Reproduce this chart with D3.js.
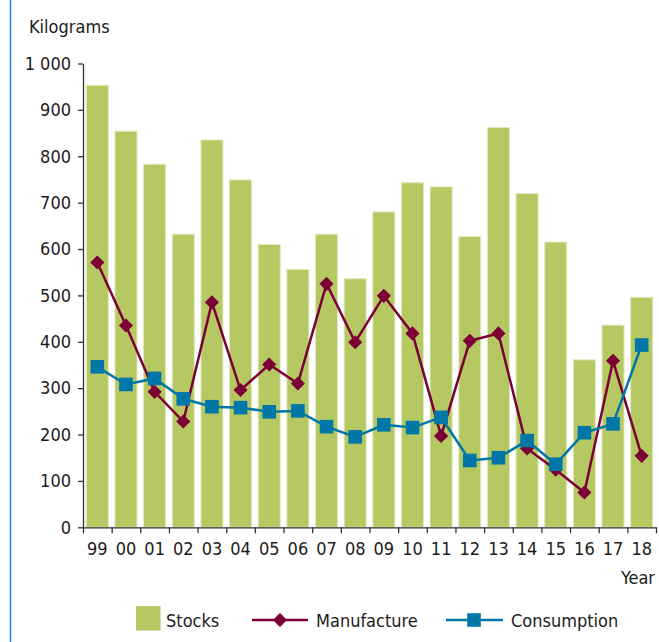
<!DOCTYPE html>
<html>
<head>
<meta charset="utf-8">
<script src="https://cdn.jsdelivr.net/npm/d3@7"></script>
<style>
  body { margin: 0; background: #fff; }
  text { font-family: "Liberation Sans Narrow", "DejaVu Sans Condensed", Arial, sans-serif; fill: #1e1b1c; }
</style>
</head>
<body>
<div id="chart-area"></div>
<script>
// data
var years = ["99","00","01","02","03","04","05","06","07","08","09","10","11","12","13","14","15","16","17","18"];
var stocks = [953, 854, 783, 632, 835, 749, 610, 556, 632, 536, 680, 743, 734, 627, 862, 720, 615, 361, 436, 496];
var manufacture = [571, 435, 292, 228, 485, 296, 351, 310, 525, 399, 499, 418, 197, 402, 418, 170, 124, 75, 359, 154];
var consumption = [346, 308, 321, 277, 260, 258, 249, 251, 217, 195, 221, 215, 237, 144, 150, 187, 136, 204, 223, 393];
var yTicks = [0, 100, 200, 300, 400, 500, 600, 700, 800, 900, 1000];

var W = 659, H = 642;
var plotLeft = 83, plotRight = 656, plotTop = 63.5, plotBottom = 527.3;

var svg = d3.select("#chart-area").append("svg")
  .attr("width", W)
  .attr("height", H);

// thin blue rule on the left edge
svg.append("line")
  .attr("x1", 10.5).attr("x2", 10.5)
  .attr("y1", 0).attr("y2", H)
  .attr("stroke", "#1d8cc6")
  .attr("stroke-width", 1.5);

var x = d3.scaleBand().domain(years).range([plotLeft, plotRight]).padding(0);
var xIdx = d3.scaleLinear().domain([0, years.length]).range([plotLeft, plotRight]);
var y = d3.scaleLinear().domain([0, 1000]).range([plotBottom, plotTop]);
var bw = x.bandwidth() * 0.77;

// bars
svg.selectAll("rect.stock").data(stocks)
  .enter().append("rect")
    .attr("class", "stock")
    .attr("x", function(d, i) { return x(years[i]) + (x.bandwidth() - bw) / 2; })
    .attr("y", function(d) { return y(d); })
    .attr("width", bw)
    .attr("height", function(d) { return y(0) - y(d); })
    .attr("fill", "#b5c862")
    .attr("stroke", "#e2eac0")
    .attr("stroke-width", 1);

// axes
var yAxis = svg.append("g")
  .attr("transform", "translate(" + plotLeft + ",0)")
  .call(d3.axisLeft(y).tickValues(yTicks).tickSize(5).tickSizeOuter(0)
    .tickFormat(function(d) { return d === 1000 ? "1 000" : d; }));
yAxis.selectAll("text").style("font-size", "18px").attr("x", -12);

svg.append("g")
  .attr("transform", "translate(0," + plotBottom + ")")
  .call(d3.axisBottom(xIdx).tickValues(d3.range(years.length + 1))
    .tickSize(6).tickSizeOuter(0).tickFormat(""));

var xAxis = svg.append("g")
  .attr("transform", "translate(0," + plotBottom + ")")
  .call(d3.axisBottom(x).tickSize(0));
xAxis.select(".domain").remove();
xAxis.selectAll("text").style("font-size", "18px").attr("dy", "0").attr("y", 28);

svg.selectAll(".domain, .tick line").attr("stroke", "#333").attr("stroke-width", 1.3);

svg.append("text")
  .attr("x", 29).attr("y", 33)
  .style("font-size", "18px")
  .text("Kilograms");

svg.append("text")
  .attr("x", 655).attr("y", 584)
  .attr("text-anchor", "end")
  .style("font-size", "18px")
  .text("Year");

// lines
var cx = function(d, i) { return x(years[i]) + x.bandwidth() / 2; };

var manLine = d3.line().x(cx).y(function(d) { return y(d); });
svg.append("path")
  .datum(manufacture)
  .attr("d", manLine)
  .attr("fill", "none")
  .attr("stroke", "#7c0036")
  .attr("stroke-width", 2.5);

var conLine = d3.line().x(cx).y(function(d) { return y(d); });
svg.append("path")
  .datum(consumption)
  .attr("d", conLine)
  .attr("fill", "none")
  .attr("stroke", "#0077a6")
  .attr("stroke-width", 2.5);

var diamond = d3.symbol().type(d3.symbolSquare).size(100);
svg.selectAll("path.man").data(manufacture)
  .enter().append("path")
    .attr("class", "man")
    .attr("d", diamond)
    .attr("transform", function(d, i) { return "translate(" + cx(d, i) + "," + y(d) + ") rotate(45)"; })
    .attr("fill", "#7c0036");

var square = d3.symbol().type(d3.symbolSquare).size(185);
svg.selectAll("path.con").data(consumption)
  .enter().append("path")
    .attr("class", "con")
    .attr("d", square)
    .attr("transform", function(d, i) { return "translate(" + cx(d, i) + "," + y(d) + ")"; })
    .attr("fill", "#0077a6");

// legend
var lg = svg.append("g");
lg.append("rect").attr("x", 136).attr("y", 606).attr("width", 24.5).attr("height", 24.5).attr("fill", "#b5c862");
lg.append("text").attr("x", 166).attr("y", 627).style("font-size", "18px").text("Stocks");

lg.append("line").attr("x1", 252).attr("x2", 308).attr("y1", 620).attr("y2", 620)
  .attr("stroke", "#7c0036").attr("stroke-width", 2.5);
lg.append("path").attr("d", diamond).attr("transform", "translate(280,620) rotate(45)").attr("fill", "#7c0036");
lg.append("text").attr("x", 316).attr("y", 627).style("font-size", "18px").text("Manufacture");

lg.append("line").attr("x1", 446).attr("x2", 503).attr("y1", 620).attr("y2", 620)
  .attr("stroke", "#0077a6").attr("stroke-width", 2.5);
lg.append("path").attr("d", square).attr("transform", "translate(474,620)").attr("fill", "#0077a6");
lg.append("text").attr("x", 511).attr("y", 627).style("font-size", "18px").text("Consumption");
</script>
</body>
</html>
